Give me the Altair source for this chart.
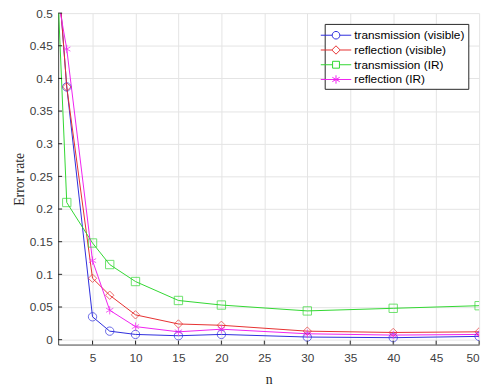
import altair as alt
import pandas as pd

n_values = [1, 2, 5, 7, 10, 15, 20, 30, 40, 50]
series_names = ["transmission (visible)", "reflection (visible)", "transmission (IR)", "reflection (IR)"]
trans_visible = [0.56, 0.387, 0.035, 0.013, 0.008, 0.006, 0.008, 0.004, 0.003, 0.005]
refl_visible = [0.56, 0.387, 0.094, 0.068, 0.038, 0.024, 0.022, 0.013, 0.011, 0.012]
trans_ir = [0.52, 0.210, 0.148, 0.115, 0.089, 0.060, 0.053, 0.044, 0.048, 0.052]
refl_ir = [0.52, 0.445, 0.121, 0.045, 0.020, 0.012, 0.016, 0.009, 0.007, 0.008]
colors = ["#2b2bdc", "#e62e2e", "#2fd62f", "#f020f0"]
x_ticks = [5, 10, 15, 20, 25, 30, 35, 40, 45, 50]
y_ticks = [0, 0.05, 0.1, 0.15, 0.2, 0.25, 0.3, 0.35, 0.4, 0.45, 0.5]

rows = []
for name, vals in zip(series_names, [trans_visible, refl_visible, trans_ir, refl_ir]):
    for n, v in zip(n_values, vals):
        rows.append({"n": n, "err": v, "series": name})
df = pd.DataFrame(rows)

W, H = 428, 337
star = "M0,-1L0,1M-0.87,-0.5L0.87,0.5M-0.87,0.5L0.87,-0.5"
plot_shapes = ["circle", "diamond", "square", star]
legend_shapes = [
    "M-2,0L-0.5,0M0.5,0L2,0M-0.5,0A0.5,0.5 0 1,1 0.5,0A0.5,0.5 0 1,1 -0.5,0",
    "M-2,0L-0.55,0M0.55,0L2,0M-0.55,0L0,-0.55L0.55,0L0,0.55Z",
    "M-2,0L-0.45,0M0.45,0L2,0M-0.45,-0.45L0.45,-0.45L0.45,0.45L-0.45,0.45Z",
    "M-2,0L2,0M0,-0.55L0,0.55M-0.48,-0.28L0.48,0.28M-0.48,0.28L0.48,-0.28",
]

xs = alt.Scale(domain=[1, 50], nice=False, zero=False)
ys = alt.Scale(domain=[-0.0075, 0.5], nice=False, zero=False)
x_axis = alt.Axis(values=x_ticks, title="n", grid=True, ticks=False,
                  labelPadding=8, titlePadding=10, labelOverlap=False)
y_axis = alt.Axis(values=y_ticks, title="Error rate", grid=True, ticks=False,
                  format="~g", labelPadding=6, titlePadding=3, labelOverlap=False)


def cscale():
    return alt.Scale(domain=series_names, range=colors)


def xe(field="n:Q"):
    return alt.X(field, scale=xs, axis=x_axis)


def ye(field="err:Q"):
    return alt.Y(field, scale=ys, axis=y_axis)


lines = alt.Chart(df).mark_line(strokeWidth=1, clip=True).encode(
    x=xe(), y=ye(),
    color=alt.Color("series:N", scale=cscale(), legend=None),
    detail="series:N",
)
points = alt.Chart(df).mark_point(filled=False, size=72, strokeWidth=1, clip=True).encode(
    x=xe(), y=ye(),
    color=alt.Color("series:N", scale=cscale(), legend=None),
    shape=alt.Shape("series:N", scale=alt.Scale(domain=series_names, range=plot_shapes), legend=None),
)

leg = alt.Legend(title=None, orient="none", legendX=271, legendY=11,
                 symbolOpacity=1, symbolSize=240, symbolStrokeWidth=1,
                 labelOffset=10, labelFontSize=12, labelFont="Liberation Sans",
                 labelColor="#000000", strokeColor="#262626", fillColor="white",
                 padding=3, rowPadding=0, symbolFillColor="transparent")
legend_layer = alt.Chart(df).mark_point(filled=False, opacity=0, size=64, strokeWidth=1).encode(
    x=xe(), y=ye(),
    color=alt.Color("series:N", scale=cscale(), legend=leg),
    shape=alt.Shape("series:N", scale=alt.Scale(domain=series_names, range=legend_shapes), legend=leg),
)

tick_df = pd.DataFrame({"t": x_ticks})
ytick_df = pd.DataFrame({"t": y_ticks})
xticks = alt.Chart(tick_df).mark_rule(color="#262626", strokeWidth=1).encode(
    x=xe("t:Q"), y=alt.value(H), y2=alt.value(H - 4))
yticks = alt.Chart(ytick_df).mark_rule(color="#262626", strokeWidth=1).encode(
    y=ye("t:Q"), x=alt.value(0), x2=alt.value(4))

chart = alt.layer(lines, points, legend_layer, xticks, yticks).resolve_scale(
    shape="independent", color="independent"
).properties(
    width=W, height=H, autosize=alt.AutoSizeParams(type="none"),
    padding={"left": 51, "top": 2, "right": 7, "bottom": 42},
).configure_view(stroke=None).configure_axis(
    labelFont="Liberation Sans", labelFontSize=12, labelColor="#404040",
    titleFont="Liberation Serif", titleFontSize=14, titleFontWeight="normal", titleColor="#262626",
    gridColor="#e3e3e3", gridWidth=1, domainColor="#404040", domainWidth=1,
)

chart.save("out.html", embed_options={"renderer": "svg", "actions": False})
